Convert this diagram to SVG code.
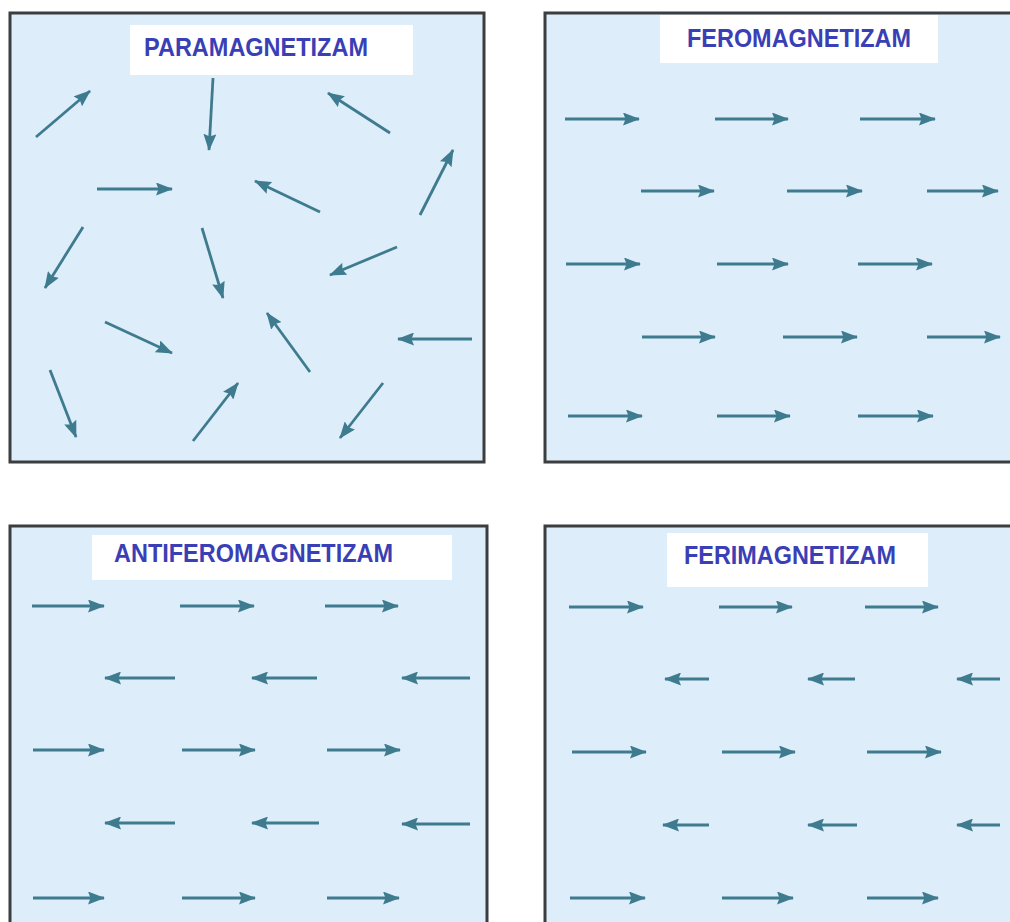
<svg xmlns="http://www.w3.org/2000/svg" width="1010" height="922" viewBox="0 0 1010 922">
<style>
.panel{fill:#ddeefa;stroke:#3b3d3f;stroke-width:3}
.lbox{fill:#ffffff}
.lbl{font-family:"Liberation Sans",Arial,sans-serif;font-weight:bold;font-size:25px;fill:#3b3fb6}
.a{stroke:#3f7b8e;stroke-width:2.8;fill:none;marker-end:url(#ah)}
</style>
<defs>
<marker id="ah" markerUnits="userSpaceOnUse" viewBox="0 0 17 13" refX="16" refY="6.5" markerWidth="17" markerHeight="13" orient="auto">
<path d="M0,0 L17,6.5 L0,13 L2.5,6.5 z" fill="#3f7b8e"/>
</marker>
</defs>
<rect width="1010" height="922" fill="#ffffff"/>
<g id="paramagnetizam">
<rect class="panel" x="10" y="13" width="474" height="449"/>
<rect class="lbox" x="130" y="25" width="283" height="50"/>
<text class="lbl" x="144" y="56" textLength="224" lengthAdjust="spacingAndGlyphs">PARAMAGNETIZAM</text>
</g>
<g id="feromagnetizam">
<rect class="panel" x="545" y="13" width="470" height="449"/>
<rect class="lbox" x="660" y="15" width="278" height="48"/>
<text class="lbl" x="687" y="47" textLength="224" lengthAdjust="spacingAndGlyphs">FEROMAGNETIZAM</text>
</g>
<g id="antiferomagnetizam">
<rect class="panel" x="10" y="526" width="477" height="410"/>
<rect class="lbox" x="92" y="535" width="360" height="45"/>
<text class="lbl" x="114" y="562" textLength="279" lengthAdjust="spacingAndGlyphs">ANTIFEROMAGNETIZAM</text>
</g>
<g id="ferimagnetizam">
<rect class="panel" x="545" y="526" width="470" height="410"/>
<rect class="lbox" x="667" y="533" width="261" height="54"/>
<text class="lbl" x="684" y="564" textLength="212" lengthAdjust="spacingAndGlyphs">FERIMAGNETIZAM</text>
</g>
<g id="connectors">
<line class="a" x1="36" y1="137" x2="90" y2="91"/>
<line class="a" x1="213" y1="78" x2="209" y2="150"/>
<line class="a" x1="390" y1="133" x2="328" y2="93"/>
<line class="a" x1="420" y1="215" x2="453" y2="150"/>
<line class="a" x1="97" y1="189" x2="172" y2="189"/>
<line class="a" x1="320" y1="212" x2="255" y2="181"/>
<line class="a" x1="83" y1="227" x2="45" y2="288"/>
<line class="a" x1="202" y1="228" x2="223" y2="298"/>
<line class="a" x1="397" y1="247" x2="330" y2="275"/>
<line class="a" x1="105" y1="322" x2="172" y2="353"/>
<line class="a" x1="310" y1="372" x2="267" y2="313"/>
<line class="a" x1="472" y1="339" x2="398" y2="339"/>
<line class="a" x1="50" y1="370" x2="76" y2="437"/>
<line class="a" x1="193" y1="441" x2="238" y2="383"/>
<line class="a" x1="383" y1="383" x2="340" y2="438"/>
<line class="a" x1="565" y1="119" x2="639" y2="119"/>
<line class="a" x1="715" y1="119" x2="788" y2="119"/>
<line class="a" x1="860" y1="119" x2="935" y2="119"/>
<line class="a" x1="641" y1="191" x2="714" y2="191"/>
<line class="a" x1="787" y1="191" x2="862" y2="191"/>
<line class="a" x1="927" y1="191" x2="998" y2="191"/>
<line class="a" x1="566" y1="264" x2="640" y2="264"/>
<line class="a" x1="717" y1="264" x2="788" y2="264"/>
<line class="a" x1="858" y1="264" x2="932" y2="264"/>
<line class="a" x1="642" y1="337" x2="715" y2="337"/>
<line class="a" x1="783" y1="337" x2="857" y2="337"/>
<line class="a" x1="927" y1="337" x2="1000" y2="337"/>
<line class="a" x1="568" y1="416" x2="642" y2="416"/>
<line class="a" x1="717" y1="416" x2="790" y2="416"/>
<line class="a" x1="858" y1="416" x2="933" y2="416"/>
<line class="a" x1="32" y1="606" x2="104" y2="606"/>
<line class="a" x1="180" y1="606" x2="254" y2="606"/>
<line class="a" x1="325" y1="606" x2="398" y2="606"/>
<line class="a" x1="175" y1="678" x2="105" y2="678"/>
<line class="a" x1="317" y1="678" x2="252" y2="678"/>
<line class="a" x1="470" y1="678" x2="402" y2="678"/>
<line class="a" x1="33" y1="750" x2="104" y2="750"/>
<line class="a" x1="182" y1="750" x2="255" y2="750"/>
<line class="a" x1="327" y1="750" x2="400" y2="750"/>
<line class="a" x1="175" y1="823" x2="105" y2="823"/>
<line class="a" x1="319" y1="823" x2="252" y2="823"/>
<line class="a" x1="470" y1="824" x2="402" y2="824"/>
<line class="a" x1="33" y1="898" x2="104" y2="898"/>
<line class="a" x1="182" y1="898" x2="255" y2="898"/>
<line class="a" x1="327" y1="898" x2="399" y2="898"/>
<line class="a" x1="569" y1="607" x2="643" y2="607"/>
<line class="a" x1="719" y1="607" x2="792" y2="607"/>
<line class="a" x1="865" y1="607" x2="938" y2="607"/>
<line class="a" x1="709" y1="679" x2="665" y2="679"/>
<line class="a" x1="855" y1="679" x2="808" y2="679"/>
<line class="a" x1="1000" y1="679" x2="957" y2="679"/>
<line class="a" x1="572" y1="752" x2="646" y2="752"/>
<line class="a" x1="722" y1="752" x2="795" y2="752"/>
<line class="a" x1="867" y1="752" x2="941" y2="752"/>
<line class="a" x1="709" y1="825" x2="663" y2="825"/>
<line class="a" x1="857" y1="825" x2="808" y2="825"/>
<line class="a" x1="1000" y1="825" x2="957" y2="825"/>
<line class="a" x1="570" y1="898" x2="645" y2="898"/>
<line class="a" x1="722" y1="898" x2="793" y2="898"/>
<line class="a" x1="867" y1="898" x2="938" y2="898"/>
</g>
</svg>
